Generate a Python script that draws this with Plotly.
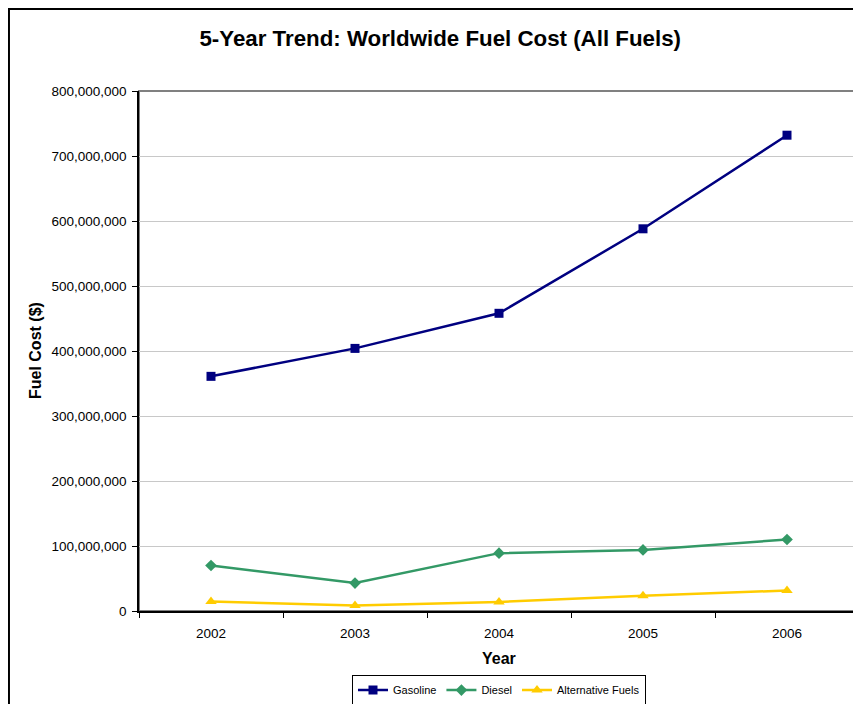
import plotly.graph_objects as go

years = ["2002", "2003", "2004", "2005", "2006"]
gasoline = [361_000_000, 404_000_000, 458_000_000, 588_000_000, 732_000_000]
diesel = [70_000_000, 43_000_000, 89_000_000, 94_000_000, 110_000_000]
alternative = [14_500_000, 8_500_000, 14_000_000, 23_500_000, 31_500_000]
y_ticks = list(range(0, 800_000_001, 100_000_000))
y_tick_labels = [f"{v:,}" for v in y_ticks]

fig = go.Figure()
fig.add_trace(go.Scatter(x=years, y=gasoline, name="Gasoline", mode="lines+markers",
                         line=dict(color="#000080", width=2.5),
                         marker=dict(symbol="square", size=9, color="#000080")))
fig.add_trace(go.Scatter(x=years, y=diesel, name="Diesel", mode="lines+markers",
                         line=dict(color="#339966", width=2.5),
                         marker=dict(symbol="diamond", size=9, color="#339966")))
fig.add_trace(go.Scatter(x=years, y=alternative, name="Alternative Fuels", mode="lines+markers",
                         line=dict(color="#FFCC00", width=2.5),
                         marker=dict(symbol="triangle-up", size=10, color="#FFCC00")))

fig.update_layout(
    width=861, height=704,
    margin=dict(l=131, r=10, t=83, b=101, autoexpand=False),
    paper_bgcolor="white", plot_bgcolor="white",
    font=dict(family="Liberation Sans, Arial, sans-serif", size=13.5, color="black"),
    title=dict(text="<b>5-Year Trend: Worldwide Fuel Cost (All Fuels)</b>",
               x=0.502, xanchor="center", y=1 - 30 / 704, yanchor="middle",
               yref="container", font=dict(size=22.3, color="black")),
    showlegend=True,
    legend=dict(orientation="h", x=0.5, xanchor="center", y=-0.152, yanchor="middle",
                bordercolor="black", borderwidth=1, font=dict(size=11),
                itemwidth=30, tracegroupgap=0, bgcolor="white"),
    xaxis=dict(type="category", range=[-0.5, 4.5], showline=True, linecolor="black", linewidth=1.5,
               ticks="outside", tickson="boundaries", ticklen=5, tickcolor="black",
               showgrid=False, zeroline=False, tickfont=dict(size=13.5),
               ticklabelstandoff=9, automargin=False),
    yaxis=dict(range=[0, 800_000_000], tickvals=y_ticks, ticktext=y_tick_labels,
               showline=True, linecolor="black", linewidth=1.5,
               ticks="outside", ticklen=5, tickcolor="black",
               showgrid=True, gridcolor="#c8c8c8", gridwidth=1, zeroline=False,
               tickfont=dict(size=13.5), ticklabelstandoff=3, automargin=False),
    annotations=[
        dict(text="<b>Fuel Cost ($)</b>", xref="paper", yref="paper", x=-0.1444, y=0.5,
             xanchor="center", yanchor="middle", textangle=-90, showarrow=False,
             font=dict(size=16)),
        dict(text="<b>Year</b>", xref="paper", yref="paper", x=0.5, y=-0.091,
             xanchor="center", yanchor="middle", showarrow=False, font=dict(size=16)),
    ],
    shapes=[
        dict(type="rect", xref="paper", yref="paper", x0=0, x1=1, y0=0, y1=1,
             line=dict(color="#808080", width=2), layer="below"),
        dict(type="rect", xref="paper", yref="paper", x0=-0.1806, x1=1.3, y0=-0.4, y1=1.1577,
             line=dict(color="black", width=2), layer="below"),
    ],
)

fig.write_html("out.html")
